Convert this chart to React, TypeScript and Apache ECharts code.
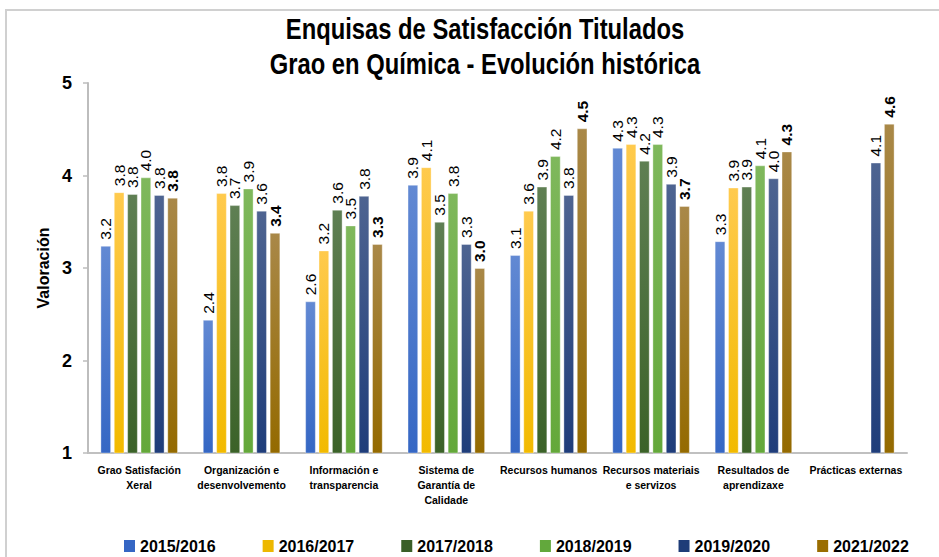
import React, { useEffect, useRef } from "react";
import * as echarts from "echarts";

const categories = [
  "Grao Satisfación\nXeral",
  "Organización e\ndesenvolvemento",
  "Información e\ntransparencia",
  "Sistema de\nGarantía de\nCalidade",
  "Recursos humanos",
  "Recursos materiais\ne servizos",
  "Resultados de\naprendizaxe",
  "Prácticas externas",
];

const seriesNames = ["2015/2016", "2016/2017", "2017/2018", "2018/2019", "2019/2020", "2021/2022"];

const s1516 = [3.24, 2.44, 2.64, 3.9, 3.14, 4.3, 3.29, null];
const s1617 = [3.82, 3.81, 3.19, 4.09, 3.62, 4.34, 3.87, null];
const s1718 = [3.8, 3.68, 3.63, 3.5, 3.88, 4.16, 3.88, null];
const s1819 = [3.98, 3.86, 3.46, 3.81, 4.21, 4.34, 4.11, null];
const s1920 = [3.79, 3.62, 3.78, 3.26, 3.79, 3.91, 3.97, 4.14];
const s2122 = [3.76, 3.38, 3.26, 3.0, 4.51, 3.67, 4.26, 4.56];

const yTicks = [1, 2, 3, 4, 5];

const titleLines = ["Enquisas de Satisfacción Titulados", "Grao en Química - Evolución histórica"];

const FONT = "'Liberation Sans', Arial, sans-serif";

const colorsTop = ["#6289D3", "#FFCA4D", "#5F7F53", "#7FB85C", "#4E6491", "#A98848"];
const colorsBottom = ["#3567C4", "#F2BA00", "#3B6228", "#64A83A", "#1F3D7A", "#946A00"];
const legendColors = ["#3566C4", "#EDB800", "#3A5F27", "#62A83C", "#1E3C78", "#9A6D00"];

export default function App() {
  const ref = useRef<HTMLDivElement>(null);

  useEffect(() => {
    if (!ref.current) return;
    const chart = echarts.init(ref.current, null, { renderer: "svg" });
    const data = [s1516, s1617, s1718, s1819, s1920, s2122];

    const series = data.map((d, i) => ({
      name: seriesNames[i],
      type: "bar",
      data: d,
      barWidth: 10.7,
      barGap: "25%",
      itemStyle: {
        color: new echarts.graphic.LinearGradient(0, 0, 0, 1, [
          { offset: 0, color: colorsTop[i] },
          { offset: 1, color: colorsBottom[i] },
        ]),
        borderColor: "rgba(255,255,255,0.35)",
        borderWidth: 1,
      },
      label: {
        show: true,
        position: "top",
        rotate: 90,
        align: "left",
        verticalAlign: "middle",
        distance: 6,
        fontFamily: FONT,
        fontSize: 15.5,
        fontWeight: i === 5 ? "bold" : "normal",
        color: "#000",
        formatter: (p: any) => (p.value == null ? "" : Number(p.value).toFixed(1)),
      },
    }));

    const titleStyle = {
      fontFamily: FONT,
      fontSize: 29,
      fontWeight: "bold",
      fill: "#000",
      align: "center",
      verticalAlign: "middle",
    };

    chart.setOption({
      animation: false,
      backgroundColor: "#fff",
      graphic: [
        {
          type: "rect",
          shape: { x: 6, y: 10, width: 1000, height: 700 },
          style: { fill: "none", stroke: "#D0D0D0", lineWidth: 2 },
          silent: true,
        },
        {
          type: "text",
          x: 485,
          y: 29,
          scaleX: 0.82,
          style: { ...titleStyle, text: titleLines[0] },
        },
        {
          type: "text",
          x: 485,
          y: 64,
          scaleX: 0.82,
          style: { ...titleStyle, text: titleLines[1] },
        },
      ],
      legend: {
        left: 124,
        top: 538,
        padding: 0,
        itemWidth: 11,
        itemHeight: 12,
        itemGap: 47,
        icon: "rect",
        textStyle: { fontFamily: FONT, fontSize: 16, fontWeight: "bold", color: "#000", lineHeight: 16 },
        data: seriesNames.map((n, i) => ({ name: n, itemStyle: { color: legendColors[i], borderWidth: 0 } })),
      },
      grid: { left: 88, right: 32, top: 83, bottom: 104 },
      xAxis: {
        type: "category",
        data: categories,
        axisLine: { lineStyle: { color: "#C0C0C0", width: 2 } },
        axisTick: { show: false },
        axisLabel: {
          interval: 0,
          margin: 9,
          fontFamily: FONT,
          fontSize: 10.5,
          fontWeight: "bold",
          color: "#000",
          lineHeight: 15,
        },
      },
      yAxis: {
        type: "value",
        min: yTicks[0],
        max: yTicks[yTicks.length - 1],
        interval: 1,
        name: "Valoración",
        nameLocation: "middle",
        nameGap: 33,
        nameTextStyle: { fontFamily: FONT, fontSize: 16, fontWeight: "bold", color: "#000" },
        axisLine: { show: true, lineStyle: { color: "#BDBDBD", width: 2 } },
        axisTick: { show: true, length: 5, lineStyle: { color: "#BDBDBD", width: 1.5 } },
        splitLine: { show: false },
        axisLabel: {
          margin: 16,
          fontFamily: FONT,
          fontSize: 18,
          fontWeight: "bold",
          color: "#000",
        },
      },
      series,
    });

    return () => chart.dispose();
  }, []);

  return <div ref={ref} style={{ position: "fixed", left: 0, top: 0, width: 939, height: 557 }} />;
}
